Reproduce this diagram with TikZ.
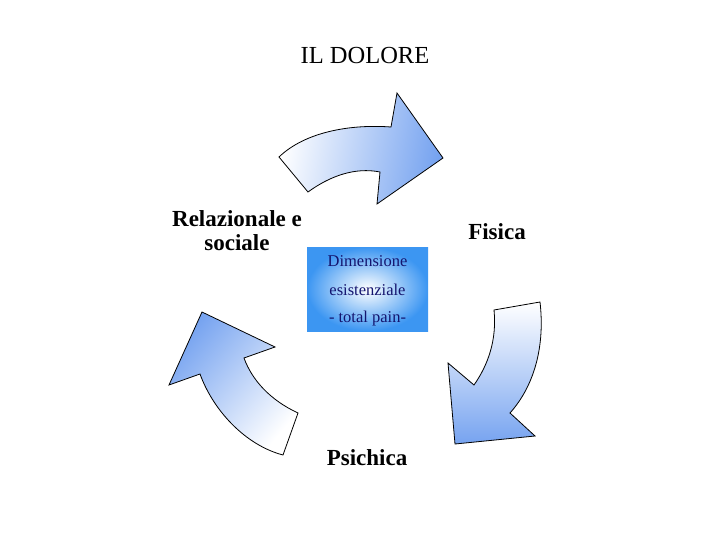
\documentclass[tikz,border=0pt]{standalone}
\usepackage{fontspec}
\setmainfont{Liberation Serif}
\definecolor{arrowblue}{RGB}{118,163,240}
\definecolor{boxblue}{RGB}{60,150,242}
\definecolor{navytext}{RGB}{20,20,110}
\tikzset{
  arrowshape/.style={draw=black, line width=0.8pt, line join=miter},
  bigtitle/.style={font=\fontsize{24.5}{27}\selectfont, inner sep=0pt, align=center},
  dimlabel/.style={font=\fontsize{23}{26}\selectfont\bfseries, inner sep=0pt, align=center},
  innertext/.style={font=\fontsize{16.5}{18}\selectfont, text=navytext, inner sep=0pt}
}
\begin{document}
\begin{tikzpicture}[x=1pt,y=-1pt]
\useasboundingbox (0,0) rectangle (720,540);
\fill[white] (0,0) rectangle (720,540);

% top arrow
\shade[arrowshape, left color=white, right color=arrowblue, shading angle=80]
  (279,157) -- (308,192)
  .. controls (330,176) and (355,167) .. (380,172)
  -- (377,204) -- (443,158) -- (397,93) -- (391,127)
  .. controls (350,124) and (305,132) .. cycle;

% right arrow
\shade[arrowshape, top color=white, bottom color=arrowblue]
  (494,310) -- (540,302)
  .. controls (545,345) and (535,385) .. (510,413)
  -- (535,436) -- (455,444) -- (448,363) -- (474,385)
  .. controls (488,365) and (497,340) .. cycle;

% left arrow
\shade[arrowshape, top color=arrowblue, bottom color=white, shading angle=50]
  (202,312) -- (275,347) -- (244,358)
  .. controls (252,380) and (270,400) .. (298,413)
  -- (283,455)
  .. controls (245,445) and (213,410) .. (200,374)
  -- (169,385) -- cycle;

% center box
\shade[inner color=white, outer color=boxblue] (307,247) rectangle (428,331);
\node[innertext] (d1) at (367.5,261) {Dimensione};
\node[innertext] (d2) at (367.5,290) {esistenziale};
\node[innertext] (d3) at (367.5,319) {- total pain-};

% labels
\node[bigtitle] (title) at (365,56) {IL DOLORE};
\node[dimlabel] (rel) at (237,231) {Relazionale e\\[-2pt]sociale};
\node[dimlabel] (fis) at (497,232) {Fisica};
\node[dimlabel] (psi) at (367,458) {Psichica};
\end{tikzpicture}
\end{document}
